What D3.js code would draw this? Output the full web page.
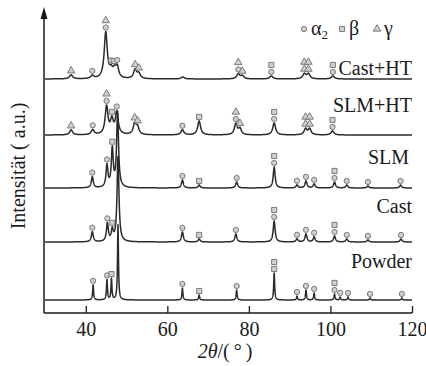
<!DOCTYPE html>
<html>
<head>
<meta charset="utf-8">
<script src="https://cdn.jsdelivr.net/npm/d3@7"></script>
<style>
  html, body { margin: 0; padding: 0; background: #fff; }
  svg { display: block; }
  svg text { font-family: "Liberation Serif", "Times New Roman", Times, "DejaVu Serif", serif !important; fill: #1a1a1a; }
</style>
</head>
<body>
<script>
// ---------------- data ----------------
const categories = ["Powder", "Cast", "SLM", "SLM+HT", "Cast+HT"];
const offsets = [13, 71, 125, 178, 234];          // baseline of each pattern (a.u.)
const peakWidths = [0.14, 0.28, 0.28, 0.42, 0.45]; // half width of peaks (deg)
const xTicks = [40, 60, 80, 100, 120];

// peaks: [2θ, intensity (a.u.)]
const peaksPowder = [[41.8,15],[45.2,20],[46.3,21],[47.9,75],[63.7,12],[67.8,5],[77.0,10],[86.2,27],[91.8,4],[94.0,10],[96.0,7],[101.0,6],[102.4,3],[104.3,3],[109.7,2],[117.5,2]];
const peaksCast   = [[41.6,10],[45.3,18],[46.5,11],[47.9,85],[63.7,10],[67.8,3],[76.8,8],[86.2,21],[91.8,3],[94.0,8],[96.0,5],[101.0,6],[104.0,3],[109.2,2],[117.3,3]];
const peaksSLM    = [[41.6,11],[45.2,22],[46.5,38],[47.8,75],[63.7,8],[67.8,3],[77.0,6],[86.2,21],[91.8,3],[94.0,7],[96.0,4],[101.0,6],[104.0,3],[109.2,2],[117.2,3]];
const peaksSLMHT  = [[36.4,5],[41.7,5],[45.1,28],[46.4,14],[47.6,22],[52.0,11],[52.7,7],[63.7,5],[67.8,14],[76.8,11],[77.8,6],[86.2,12],[93.9,6],[94.9,6],[100.5,4]];
const peaksCastHT = [[36.4,4],[41.6,3],[44.9,46],[46.2,7],[47.0,7],[47.7,11],[52.1,9],[53.0,5],[63.8,2],[77.4,5],[78.4,3],[85.5,3],[93.6,5],[94.6,5],[100.6,3]];
const peakSets = [peaksPowder, peaksCast, peaksSLM, peaksSLMHT, peaksCastHT];

// phase markers: [series, 2θ, phases from bottom to top]  a = α2, b = β, g = γ
const phaseMarks = [
  ["Powder",41.8,"a"],["Powder",45.2,"a"],["Powder",46.3,"b"],["Powder",63.7,"a"],["Powder",67.8,"b"],["Powder",77.0,"a"],["Powder",86.2,"bb"],["Powder",91.8,"a"],["Powder",94.0,"a"],["Powder",96.0,"a"],["Powder",101.0,"ab"],["Powder",102.4,"a"],["Powder",104.3,"a"],["Powder",109.7,"a"],["Powder",117.5,"a"],
  ["Cast",41.6,"a"],["Cast",45.3,"a"],["Cast",46.5,"b"],["Cast",63.7,"a"],["Cast",67.8,"b"],["Cast",76.8,"a"],["Cast",86.2,"ab"],["Cast",91.8,"a"],["Cast",94.0,"a"],["Cast",96.0,"a"],["Cast",101.0,"ab"],["Cast",104.0,"a"],["Cast",109.2,"a"],["Cast",117.3,"a"],
  ["SLM",41.6,"a"],["SLM",45.2,"a"],["SLM",46.5,"b"],["SLM",63.7,"a"],["SLM",67.8,"b"],["SLM",77.0,"a"],["SLM",86.2,"ab"],["SLM",91.8,"a"],["SLM",94.0,"a"],["SLM",96.0,"a"],["SLM",101.0,"ab"],["SLM",104.0,"a"],["SLM",109.2,"a"],["SLM",117.2,"a"],
  ["SLM+HT",36.4,"g"],["SLM+HT",41.7,"a"],["SLM+HT",45.1,"ag"],["SLM+HT",46.4,"b"],["SLM+HT",47.6,"a"],["SLM+HT",52.0,"g"],["SLM+HT",52.7,"g"],["SLM+HT",63.7,"a"],["SLM+HT",67.8,"b"],["SLM+HT",76.8,"ag"],["SLM+HT",77.8,"g"],["SLM+HT",86.2,"ab"],["SLM+HT",93.9,"gg"],["SLM+HT",94.9,"gg"],["SLM+HT",100.5,"ab"],
  ["Cast+HT",36.4,"g"],["Cast+HT",41.6,"a"],["Cast+HT",44.9,"ag"],["Cast+HT",46.2,"a"],["Cast+HT",47.0,"b"],["Cast+HT",47.7,"a"],["Cast+HT",52.1,"g"],["Cast+HT",53.0,"g"],["Cast+HT",77.4,"ag"],["Cast+HT",78.4,"g"],["Cast+HT",85.5,"ab"],["Cast+HT",93.6,"gg"],["Cast+HT",94.6,"gg"],["Cast+HT",100.6,"ab"]
];
const legendItems = [["a","α","2"],["b","β",""],["g","γ",""]];

// ---------------- chart ----------------
const W = 426, H = 366;
const svg = d3.select("body").append("svg").attr("width", W).attr("height", H);

const x = d3.scaleLinear().domain([30, 120]).range([45, 412]);
const y = d3.scaleLinear().domain([0, 303]).range([313, 10]);

const grid = d3.range(30, 120.0001, 0.02);
function profile(peaks, w, x0) {
  let s = 0;
  for (const [c, h] of peaks) { const t = (x0 - c) / w; s += h / (1 + t * t); }
  return s;
}

const line = d3.line().x(d => x(d[0])).y(d => y(d[1]));
categories.forEach((cat, i) => {
  const pts = grid.map(t => [t, offsets[i] + profile(peakSets[i], peakWidths[i], t)]);
  svg.append("path").datum(pts).attr("d", line)
    .attr("fill", "none").attr("stroke", "#2a2a2a").attr("stroke-width", 1.5)
    .attr("stroke-linejoin", "round");
});

// phase markers
const symType = { a: d3.symbolCircle, b: d3.symbolSquare, g: d3.symbolTriangle };
const symSize = { a: 22, b: 26, g: 24 };
function drawSym(g, type, cx, cy) {
  g.append("path").attr("d", d3.symbol().type(symType[type]).size(symSize[type])())
    .attr("transform", `translate(${cx},${cy})`)
    .attr("fill", "#cfcfcf").attr("stroke", "#6f6f6f").attr("stroke-width", 0.9);
}
const markG = svg.append("g");
phaseMarks.forEach(([cat, pos, phases]) => {
  const i = categories.indexOf(cat);
  const top = offsets[i] + profile(peakSets[i], peakWidths[i], pos);
  phases.split("").forEach((p, k) => drawSym(markG, p, x(pos), y(top) - 4 - k * 7));
});

// x axis
const xAxis = d3.axisBottom(x).tickValues(xTicks).tickSizeInner(-7).tickSizeOuter(0).tickPadding(9);
const gx = svg.append("g").attr("transform", `translate(0,${y(0)})`).call(xAxis);
gx.attr("font-family", null).attr("font-size", 20);
gx.select(".domain").attr("stroke", "#1a1a1a").attr("stroke-width", 1.5).attr("d", `M${x(30)-1},0H${x(120)}`);
gx.selectAll(".tick line").attr("stroke", "#1a1a1a").attr("stroke-width", 1.3);
gx.selectAll(".tick text").attr("font-size", 20).attr("fill", "#1a1a1a");

// y axis with arrow
const ax = x(30) - 1;
svg.append("line").attr("x1", ax).attr("x2", ax).attr("y1", y(0)).attr("y2", y(300))
  .attr("stroke", "#1a1a1a").attr("stroke-width", 1.5);
svg.append("path").attr("d", `M${ax},${y(306)} L${ax-3.5},${y(294)} L${ax+3.5},${y(294)} Z`).attr("fill", "#1a1a1a");

// series labels
const labelPos = { "Cast+HT": [412, 75], "SLM+HT": [412, 112], "SLM": [409, 164], "Cast": [412, 213], "Powder": [412, 268] };
categories.forEach(cat => {
  svg.append("text").attr("x", labelPos[cat][0]).attr("y", labelPos[cat][1])
    .attr("text-anchor", "end").attr("font-size", 20).text(cat);
});

// legend
const legX = [304, 342, 377];
legendItems.forEach(([t, sym, sub], k) => {
  drawSym(svg, t, legX[k], 29);
  const tx = svg.append("text").attr("x", legX[k] + 7).attr("y", 35).attr("font-size", 20);
  tx.append("tspan").text(sym);
  if (sub) tx.append("tspan").attr("font-size", 13).attr("dy", 4).text(sub);
});

// axis titles
const xt = svg.append("text").attr("x", 225).attr("y", 358).attr("text-anchor", "middle").attr("font-size", 20);
xt.append("tspan").attr("font-style", "italic").text("2θ");
xt.append("tspan").text("/(\u2009°\u2009)");

svg.append("text").attr("transform", "translate(25,166) rotate(-90)")
  .attr("text-anchor", "middle").attr("font-size", 20).text("Intensität ( a.u.)");
</script>
</body>
</html>
